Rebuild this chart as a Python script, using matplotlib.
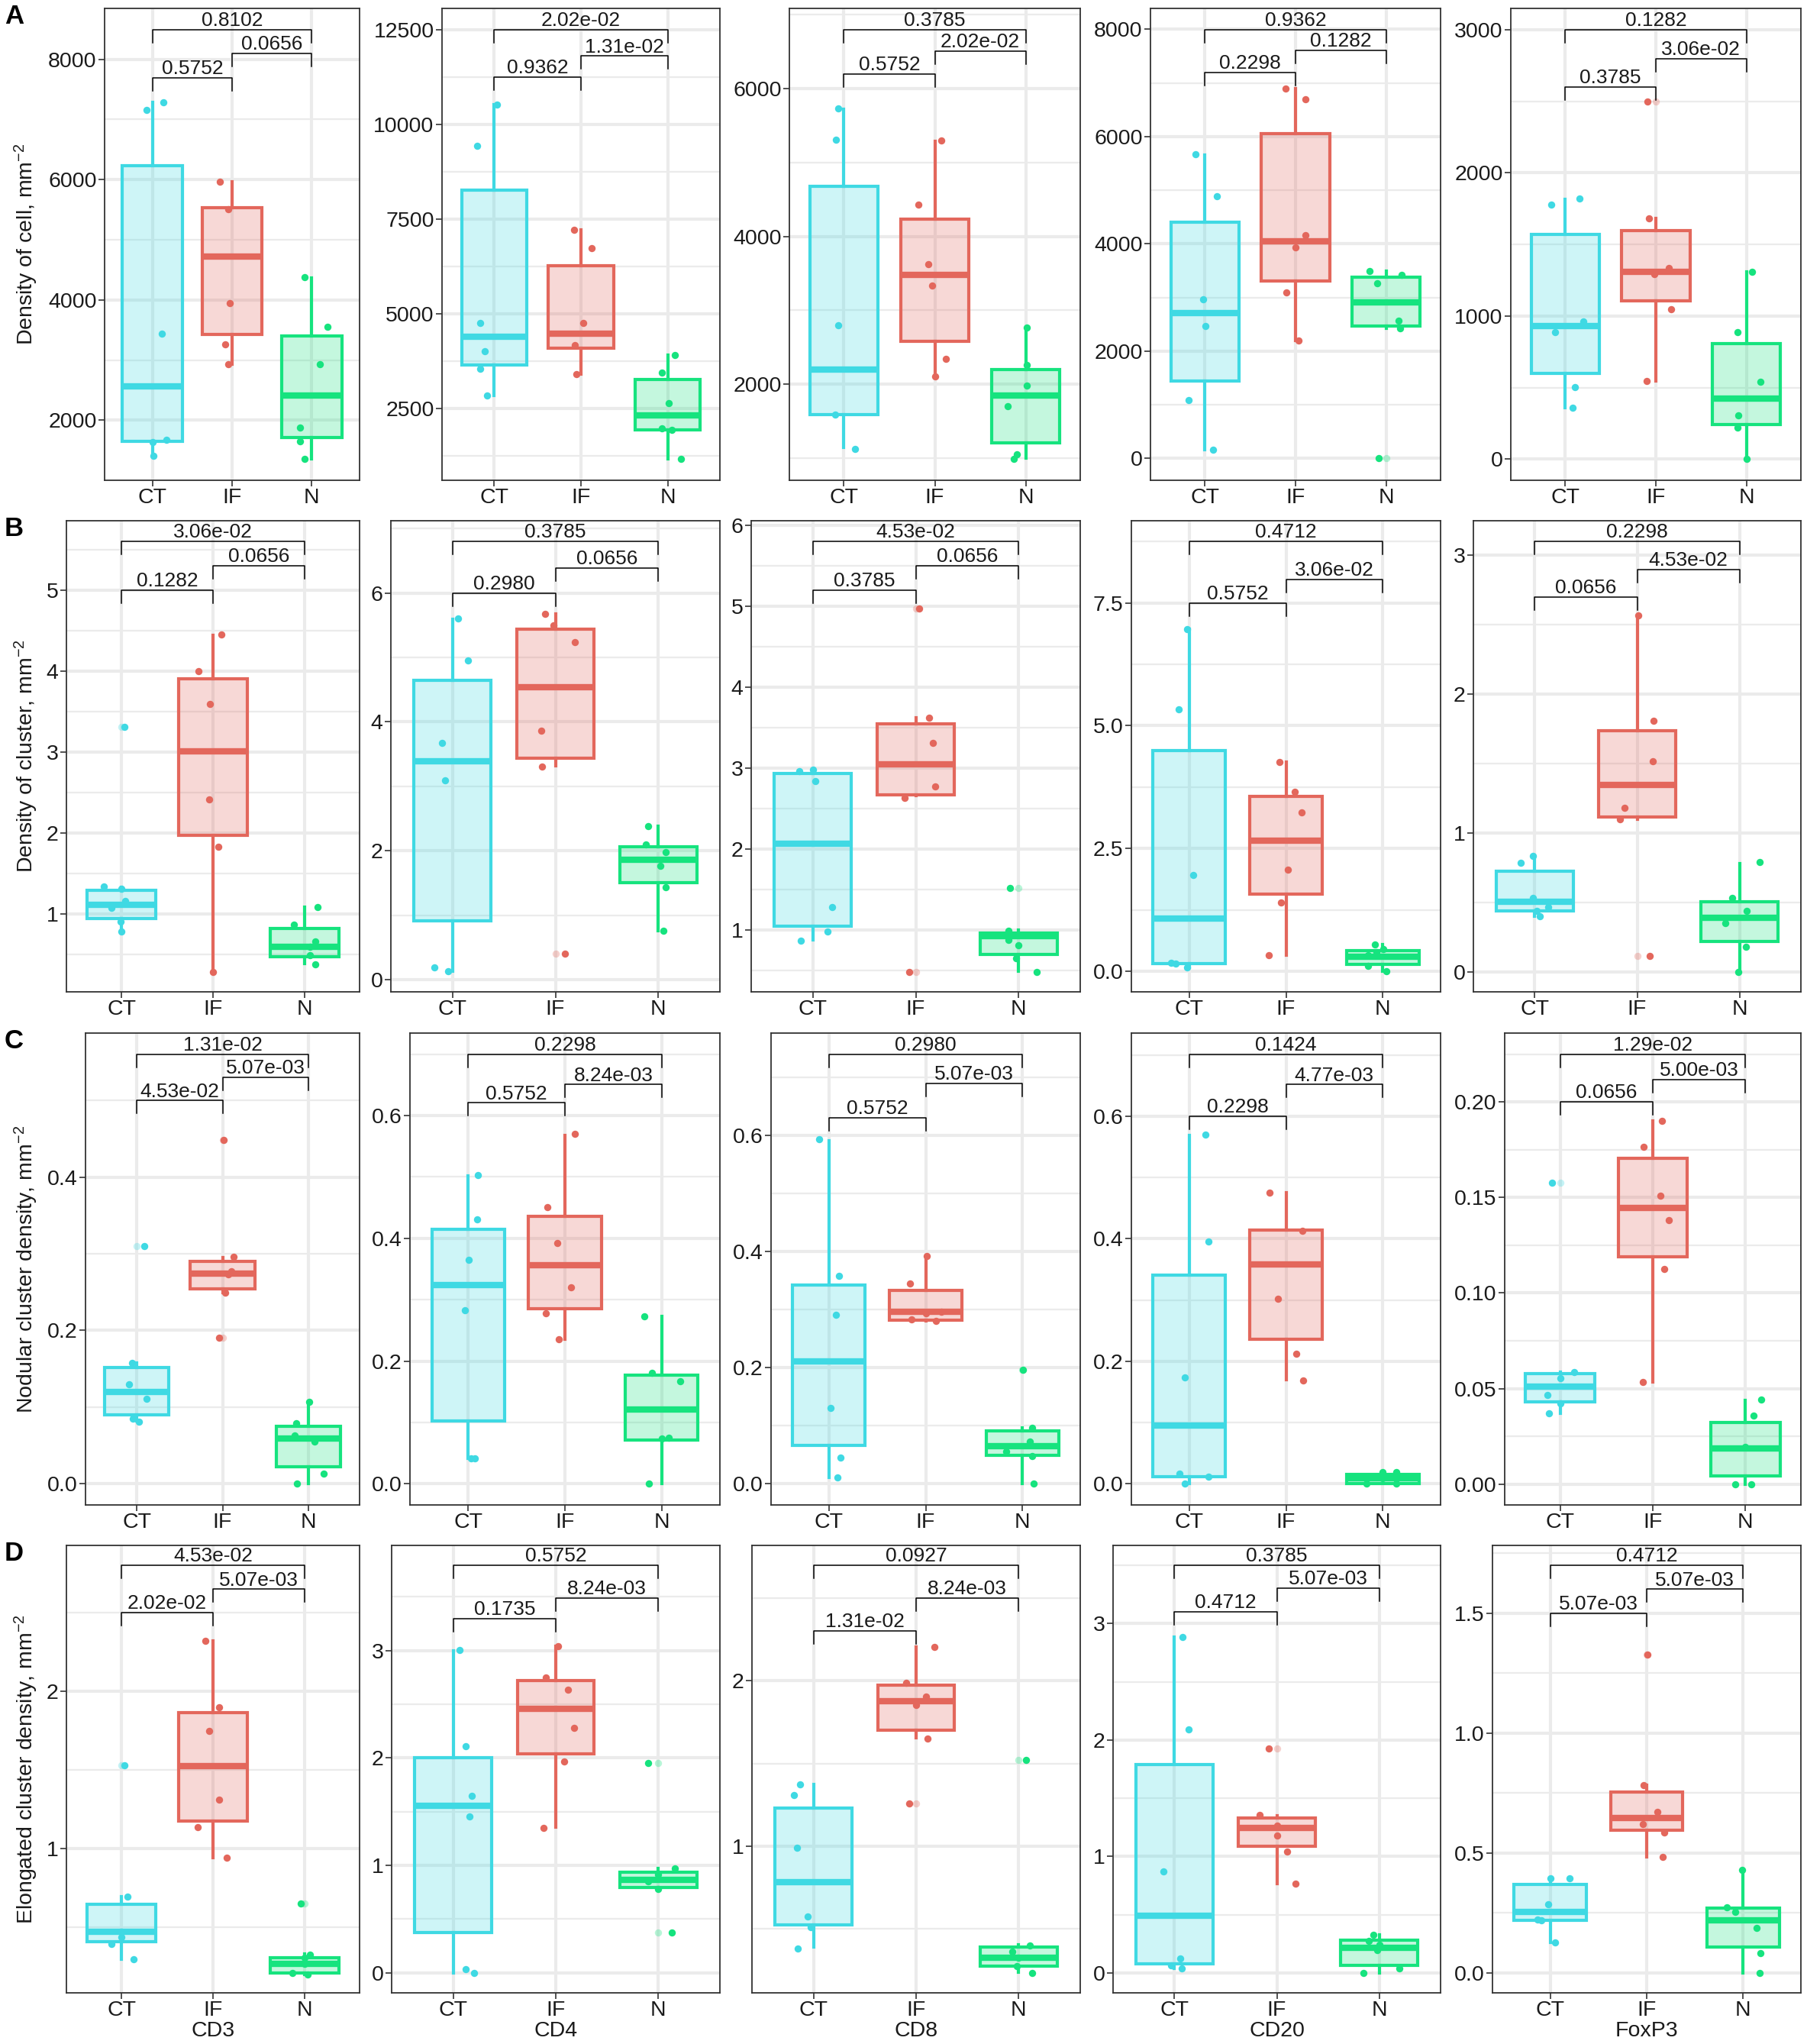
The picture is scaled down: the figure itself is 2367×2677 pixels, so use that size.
import matplotlib
matplotlib.use('Agg')
import matplotlib.pyplot as plt
from matplotlib.colors import to_rgba

plt.rcParams['font.family'] = 'Liberation Sans'
plt.rcParams['mathtext.fontset'] = 'custom'
plt.rcParams['mathtext.rm'] = 'Liberation Sans'
plt.rcParams['mathtext.it'] = 'Liberation Sans:italic'
plt.rcParams['mathtext.bf'] = 'Liberation Sans:bold'

groups = ['CT', 'IF', 'N']
markers = ['CD3', 'CD4', 'CD8', 'CD20', 'FoxP3']
group_colors = ['#3FD9E3', '#E3675C', '#16E37E']
row_letters = ['A', 'B', 'C', 'D']
row_ylabels = ['Density of cell, mm$^{-2}$',
               'Density of cluster, mm$^{-2}$',
               'Nodular cluster density, mm$^{-2}$',
               'Elongated cluster density, mm$^{-2}$']

# box stats per marker: [whisker low, q1, median, q3, whisker high] for CT, IF, N
# ---- A: density of cell
A_box = [
    [[1404, 1653, 2564, 6228, 7285], [2927, 3425, 4721, 5534, 5967], [1355, 1718, 2412, 3398, 4363]],
    [[2844, 3653, 4385, 8266, 10521], [3404, 4083, 4471, 6261, 7225], [1166, 1932, 2319, 3266, 3911]],
    [[1145, 1595, 2203, 4678, 5713], [2110, 2586, 3480, 4229, 5286], [1000, 1207, 1846, 2198, 2771]],
    [[164, 1441, 2705, 4407, 5653], [2201, 3301, 4043, 6061, 6888], [2432, 2462, 2906, 3374, 3495]],
    [[358, 597, 927, 1572, 1816], [544, 1105, 1310, 1595, 1679], [0, 239, 421, 806, 1308]],
]
A_pts = [
    [[7154, 7285, 3442, 1637, 1680, 1404], [5967, 5507, 3946, 3257, 2927], [4374, 3550, 2932, 1881, 1653, 1355]],
    [[9428, 10521, 4763, 4006, 3541, 2844], [7225, 6734, 4763, 4170, 3404], [3911, 3455, 2638, 1975, 1932, 1166]],
    [[5727, 5304, 2797, 1595, 1132], [5295, 4427, 3621, 3339, 2344, 2110], [2771, 2264, 1982, 1705, 1053, 991]],
    [[5666, 4894, 2960, 2462, 1094, 164], [6888, 6699, 4164, 3933, 3088, 2201], [3495, 3416, 3264, 2565, 2432, 0]],
    [[1775, 1820, 888, 961, 501, 358], [2499, 1683, 1333, 1292, 1046, 544], [1308, 888, 540, 305, 221, 0]],
]
A_ylim = [(1003, 8845), (607, 13059), (705, 7079), (-407, 8389), (-148, 3148)]
A_ticks = [[2000, 4000, 6000, 8000], [2500, 5000, 7500, 10000, 12500], [2000, 4000, 6000],
           [0, 2000, 4000, 6000, 8000], [0, 1000, 2000, 3000]]
A_labels = [['2000', '4000', '6000', '8000'], ['2500', '5000', '7500', '10000', '12500'],
            ['2000', '4000', '6000'], ['0', '2000', '4000', '6000', '8000'], ['0', '1000', '2000', '3000']]
# p values: CT-IF, IF-N, CT-N
A_pvals = [('0.5752', '0.0656', '0.8102'), ('0.9362', '1.31e-02', '2.02e-02'), ('0.5752', '2.02e-02', '0.3785'),
           ('0.2298', '0.1282', '0.9362'), ('0.3785', '3.06e-02', '0.1282')]

# ---- B: density of cluster
B_box = [
    [[0.79, 0.94, 1.113, 1.294, 1.327], [0.286, 1.972, 3.008, 3.903, 4.448], [0.387, 0.468, 0.589, 0.823, 1.081]],
    [[0.137, 0.911, 3.392, 4.643, 5.595], [3.316, 3.433, 4.542, 5.443, 5.681], [0.759, 1.509, 1.858, 2.061, 2.38]],
    [[0.883, 1.052, 2.068, 2.934, 2.986], [2.664, 2.672, 3.047, 3.55, 3.619], [0.496, 0.698, 0.923, 0.964, 1.0]],
    [[0.08, 0.159, 1.07, 4.491, 6.97], [0.326, 1.568, 2.664, 3.561, 4.266], [0.0, 0.146, 0.292, 0.425, 0.538]],
    [[0.401, 0.437, 0.507, 0.723, 0.836], [1.101, 1.117, 1.345, 1.735, 2.566], [0.0, 0.221, 0.39, 0.507, 0.782]],
]
B_pts = [
    [[3.31, 1.343, 1.31, 1.161, 1.073, 0.90, 0.778], [4.456, 4.0, 3.593, 2.415, 1.827, 0.286],
     [1.081, 0.863, 0.661, 0.589, 0.488, 0.379]],
    [[5.61, 4.947, 3.671, 3.099, 0.192, 0.137], [5.681, 5.494, 5.24, 3.868, 3.306, 0.405],
     [2.38, 2.101, 1.985, 1.762, 1.433, 0.759]],
    [[2.966, 2.986, 2.845, 1.29, 0.984, 0.871], [4.97, 3.623, 3.317, 2.773, 2.632, 0.488],
     [1.524, 0.992, 0.879, 0.81, 0.65, 0.488]],
    [[6.97, 5.342, 1.953, 0.179, 0.159, 0.08], [4.266, 3.648, 3.242, 2.073, 1.402, 0.326],
     [0.538, 0.458, 0.392, 0.326, 0.106, 0.0]],
    [[0.836, 0.784, 0.535, 0.465, 0.437, 0.401], [2.566, 1.805, 1.514, 1.178, 1.101, 0.113],
     [0.789, 0.531, 0.437, 0.354, 0.183, 0.0]],
]
B_ylim = [(0.036, 5.86), (-0.187, 7.12), (0.239, 6.056), (-0.419, 9.175), (-0.143, 3.246)]
B_ticks = [[1, 2, 3, 4, 5], [0, 2, 4, 6], [1, 2, 3, 4, 5, 6], [0, 2.5, 5, 7.5], [0, 1, 2, 3]]
B_labels = [['1', '2', '3', '4', '5'], ['0', '2', '4', '6'], ['1', '2', '3', '4', '5', '6'],
            ['0.0', '2.5', '5.0', '7.5'], ['0', '1', '2', '3']]
B_pvals = [('0.1282', '0.0656', '3.06e-02'), ('0.2980', '0.0656', '0.3785'), ('0.3785', '0.0656', '4.53e-02'),
           ('0.5752', '3.06e-02', '0.4712'), ('0.0656', '4.53e-02', '0.2298')]

# ---- C: nodular cluster density
C_box = [
    [[0.0817, 0.0902, 0.12, 0.152, 0.158], [0.249, 0.254, 0.274, 0.290, 0.295], [0.0, 0.0221, 0.0591, 0.0745, 0.107]],
    [[0.042, 0.102, 0.3237, 0.4146, 0.5017], [0.236, 0.2854, 0.3561, 0.4358, 0.5682], [0.0, 0.0718, 0.1206, 0.1765, 0.2732]],
    [[0.0112, 0.0658, 0.2103, 0.3425, 0.5916], [0.2812, 0.2823, 0.2963, 0.3329, 0.392], [0.0, 0.0489, 0.0647, 0.0911, 0.0967]],
    [[0.0, 0.0117, 0.0953, 0.3408, 0.5692], [0.1699, 0.2354, 0.3578, 0.4148, 0.475], [0.0, 0.0, 0.009, 0.0154, 0.018]],
    [[0.0372, 0.0432, 0.0509, 0.0577, 0.0585], [0.0534, 0.1189, 0.1444, 0.1703, 0.19], [0.0, 0.0043, 0.0188, 0.0321, 0.044]],
]
C_pts = [
    [[0.31, 0.158, 0.130, 0.111, 0.0847, 0.081], [0.449, 0.296, 0.277, 0.273, 0.249, 0.19],
     [0.107, 0.0791, 0.0626, 0.0549, 0.0128, 0.0]],
    [[0.5033, 0.4305, 0.3651, 0.2828, 0.042, 0.041], [0.5698, 0.4502, 0.3928, 0.32, 0.2774, 0.236],
     [0.2732, 0.1807, 0.1674, 0.0744, 0.0739, 0.0]],
    [[0.5938, 0.3582, 0.2907, 0.1305, 0.0444, 0.0107], [0.392, 0.3453, 0.2963, 0.2935, 0.2834, 0.2806],
     [0.1963, 0.0967, 0.0725, 0.0557, 0.0478, 0.0]],
    [[0.5697, 0.3962, 0.1741, 0.017, 0.0117, 0.0], [0.475, 0.4127, 0.3019, 0.2125, 0.1688],
     [0.0186, 0.0186, 0.0117, 0.009, 0.0, 0.0]],
    [[0.1578, 0.0585, 0.0555, 0.0466, 0.0423, 0.0372], [0.19, 0.1766, 0.151, 0.1382, 0.1126, 0.0534],
     [0.0444, 0.0358, 0.0193, 0.0, 0.0]],
]
C_ylim = [(-0.0277, 0.588), (-0.0345, 0.7345), (-0.0366, 0.777), (-0.0346, 0.736), (-0.0109, 0.236)]
C_ticks = [[0, 0.2, 0.4], [0, 0.2, 0.4, 0.6], [0, 0.2, 0.4, 0.6], [0, 0.2, 0.4, 0.6], [0, 0.05, 0.1, 0.15, 0.2]]
C_labels = [['0.0', '0.2', '0.4'], ['0.0', '0.2', '0.4', '0.6'], ['0.0', '0.2', '0.4', '0.6'],
            ['0.0', '0.2', '0.4', '0.6'], ['0.00', '0.05', '0.10', '0.15', '0.20']]
C_pvals = [('4.53e-02', '5.07e-03', '1.31e-02'), ('0.5752', '8.24e-03', '0.2298'), ('0.5752', '5.07e-03', '0.2980'),
           ('0.2298', '4.77e-03', '0.1424'), ('0.0656', '5.00e-03', '1.29e-02')]

# ---- D: elongated cluster density
D_box = [
    [[0.296, 0.41, 0.472, 0.648, 0.694], [0.944, 1.176, 1.522, 1.863, 2.321], [0.203, 0.213, 0.271, 0.306, 0.331]],
    [[0.0, 0.377, 1.556, 2.0, 3.0], [1.353, 2.036, 2.456, 2.72, 3.04], [0.781, 0.79, 0.866, 0.936, 0.973]],
    [[0.387, 0.525, 0.783, 1.231, 1.373], [1.655, 1.7, 1.878, 1.976, 2.207], [0.235, 0.274, 0.323, 0.387, 0.402]],
    [[0.039, 0.078, 0.493, 1.788, 2.886], [0.764, 1.086, 1.243, 1.327, 1.352], [0.0, 0.067, 0.218, 0.283, 0.325]],
    [[0.1266, 0.218, 0.2545, 0.3675, 0.3947], [0.4832, 0.5948, 0.6465, 0.7554, 0.7826], [0.0, 0.1062, 0.2178, 0.2695, 0.4287]],
]
D_pts = [
    [[1.53, 0.696, 0.472, 0.44, 0.395, 0.296], [2.321, 1.899, 1.745, 1.31, 1.135, 0.944],
     [0.652, 0.327, 0.306, 0.271, 0.209, 0.203]],
    [[3.009, 2.106, 1.647, 1.453, 0.03, 0.0], [3.04, 2.751, 2.635, 2.28, 1.967, 1.347],
     [1.951, 0.973, 0.912, 0.851, 0.781, 0.371]],
    [[1.375, 1.31, 0.99, 0.576, 0.511, 0.379], [2.207, 1.99, 1.905, 1.856, 1.649, 1.26],
     [1.521, 0.398, 0.363, 0.323, 0.274, 0.231]],
    [[2.886, 2.093, 0.87, 0.123, 0.067, 0.039], [1.928, 1.357, 1.262, 1.178, 1.044, 0.764],
     [0.325, 0.277, 0.241, 0.199, 0.039, 0.0]],
    [[0.3947, 0.3947, 0.2858, 0.2219, 0.218, 0.1266], [1.327, 0.7826, 0.671, 0.6193, 0.5853, 0.4832],
     [0.4287, 0.2722, 0.2545, 0.1865, 0.0817, 0.0]],
]
D_ylim = [(0.085, 2.925), (-0.188, 3.98), (0.112, 2.82), (-0.171, 3.67), (-0.084, 1.783)]
D_ticks = [[1, 2], [0, 1, 2, 3], [1, 2], [0, 1, 2, 3], [0, 0.5, 1, 1.5]]
D_labels = [['1', '2'], ['0', '1', '2', '3'], ['1', '2'], ['0', '1', '2', '3'], ['0.0', '0.5', '1.0', '1.5']]
D_pvals = [('2.02e-02', '5.07e-03', '4.53e-02'), ('0.1735', '8.24e-03', '0.5752'), ('1.31e-02', '8.24e-03', '0.0927'),
           ('0.4712', '5.07e-03', '0.3785'), ('5.07e-03', '5.07e-03', '0.4712')]

# horizontal jitter of the points (same shape as the *_pts lists)
A_jit = [
    [[-0.07, 0.14, 0.12, 0.0, 0.18, 0.01], [-0.15, -0.05, -0.03, -0.09, -0.05], [-0.09, 0.2, 0.1, -0.15, -0.15, -0.09]],
    [[-0.2, 0.03, -0.16, -0.11, -0.16, -0.08], [-0.08, 0.12, 0.03, -0.07, -0.05], [0.08, -0.07, 0.01, -0.07, 0.05, 0.15]],
    [[-0.06, -0.09, -0.06, -0.1, 0.12], [0.07, -0.18, -0.07, -0.03, 0.12, 0.0], [0.01, 0.01, 0.01, -0.2, -0.1, -0.13]],
    [[-0.1, 0.13, -0.02, 0.01, -0.18, 0.09], [-0.11, 0.11, 0.11, 0.0, -0.1, 0.03], [-0.18, 0.17, -0.1, 0.14, 0.15, -0.08]],
    [[-0.15, 0.16, -0.11, 0.2, 0.11, 0.08], [-0.09, -0.08, 0.14, -0.02, 0.17, -0.1], [0.06, -0.1, 0.15, -0.09, -0.1, 0.0]],
]
B_jit = [
    [[0.03, -0.19, 0.0, 0.04, -0.11, -0.01, 0.0], [0.09, -0.16, -0.03, -0.04, 0.06, 0.0], [0.14, -0.12, 0.12, 0.06, 0.06, 0.12]],
    [[0.05, 0.15, -0.1, -0.07, -0.18, -0.04], [-0.1, -0.02, 0.19, -0.14, -0.13, 0.09], [-0.1, -0.12, 0.07, 0.02, 0.07, 0.05]],
    [[-0.13, 0.0, 0.02, 0.19, 0.14, -0.12], [0.03, 0.13, 0.17, 0.19, -0.11, -0.06], [-0.08, -0.1, -0.1, 0.0, -0.02, 0.18]],
    [[-0.02, -0.11, 0.04, -0.19, -0.14, -0.02], [-0.07, 0.09, 0.16, 0.02, -0.05, -0.18], [-0.08, 0.01, -0.06, -0.15, -0.15, 0.04]],
    [[-0.02, -0.14, -0.02, 0.13, 0.02, 0.05], [0.01, 0.16, 0.15, -0.12, -0.17, 0.12], [0.2, -0.07, 0.07, -0.14, 0.06, -0.01]],
]
C_jit = [
    [[0.09, -0.06, -0.09, 0.11, -0.05, 0.02], [0.01, 0.13, 0.1, 0.07, 0.03, -0.04], [0.01, -0.14, -0.16, 0.07, 0.18, -0.13]],
    [[0.1, 0.09, 0.01, -0.03, 0.03, 0.07], [0.1, -0.18, -0.08, 0.06, -0.2, -0.06], [-0.18, -0.1, 0.19, 0.07, 0.0, -0.13]],
    [[-0.1, 0.1, 0.07, 0.02, 0.12, 0.09], [0.01, -0.16, 0.16, 0.0, -0.15, 0.11], [0.01, 0.1, 0.08, -0.17, 0.1, 0.12]],
    [[0.17, 0.2, -0.05, -0.1, 0.2, -0.05], [-0.17, 0.17, -0.08, 0.11, 0.18], [0.0, 0.14, -0.1, 0.0, -0.17, 0.14]],
    [[-0.09, 0.15, 0.0, -0.14, 0.0, -0.12], [0.1, -0.1, 0.08, 0.17, 0.12, -0.11], [0.17, 0.09, 0.0, -0.11, 0.06]],
]
D_jit = [
    [[0.03, 0.07, 0.0, 0.0, -0.11, 0.13], [-0.08, 0.07, -0.04, 0.07, -0.17, 0.15], [-0.04, 0.06, 0.0, 0.0, -0.13, 0.03]],
    [[0.06, 0.12, 0.18, 0.16, 0.12, 0.2], [0.02, -0.1, 0.12, 0.18, 0.08, -0.12], [-0.1, 0.16, 0.0, -0.1, 0.0, 0.13]],
    [[-0.13, -0.19, -0.16, -0.06, -0.03, -0.15], [0.18, -0.1, 0.1, 0.0, 0.11, -0.07], [0.07, 0.11, -0.06, 0.0, -0.02, 0.13]],
    [[0.08, 0.14, -0.11, 0.06, -0.03, 0.07], [-0.08, -0.17, 0.0, 0.0, 0.1, 0.18], [-0.06, -0.1, 0.0, -0.02, 0.2, -0.15]],
    [[0.0, 0.2, -0.02, -0.13, -0.09, 0.05], [0.01, -0.03, 0.11, -0.04, 0.18, 0.17], [-0.01, -0.17, -0.08, 0.14, 0.18, 0.17]],
]

# layout, in pixels of the 2367x2677 figure
W, H = 2367, 2677
row_top = [11, 682, 1353, 2024]
row_bottom = [629, 1299, 1971, 2610]
col_right = [471, 943, 1415, 1887, 2359]
col_left = [[137, 579, 1034, 1507, 1979],
            [87, 512, 984, 1482, 1930],
            [112, 537, 1010, 1482, 1971],
            [87, 513, 985, 1458, 1955]]
# height of the brackets (axes fraction): CT-IF, IF-N, CT-N
bracket_y = [
    [(0.853, 0.905, 0.955), (0.855, 0.899, 0.955), (0.861, 0.909, 0.955), (0.864, 0.911, 0.955), (0.834, 0.894, 0.955)],
    [(0.852, 0.904, 0.956), (0.846, 0.900, 0.956), (0.852, 0.904, 0.956), (0.825, 0.876, 0.956), (0.838, 0.897, 0.956)],
    [(0.857, 0.906, 0.955), (0.852, 0.891, 0.955), (0.820, 0.894, 0.955), (0.824, 0.891, 0.955), (0.854, 0.902, 0.955)],
    [(0.850, 0.902, 0.956), (0.836, 0.883, 0.956), (0.809, 0.882, 0.956), (0.852, 0.904, 0.956), (0.848, 0.902, 0.956)],
]

TEXT = '#1A1A1A'
GRID = '#EBEBEB'


def bracket(ax, x1, x2, yfrac, tip, text):
    trans = ax.get_xaxis_transform()
    ax.plot([x1, x1, x2, x2], [yfrac - tip, yfrac, yfrac, yfrac - tip], color='black', lw=1.1,
            transform=trans, clip_on=False, zorder=5)
    ax.annotate(text, xy=((x1 + x2) / 2, yfrac), xycoords=trans, xytext=(0, 3.5),
                textcoords='offset points', ha='center', va='baseline', fontsize=19, color=TEXT)


def draw_panel(ax, box, pts, jit, ylim, ticks, labels, pvals, brk, height_px):
    stats = []
    for b in box:
        stats.append({'whislo': b[0], 'q1': b[1], 'med': b[2], 'q3': b[3], 'whishi': b[4], 'fliers': []})
    art = ax.bxp(stats, positions=[1, 2, 3], widths=0.75, patch_artist=True, showcaps=False,
                 showfliers=False, manage_ticks=False)
    for i, c in enumerate(group_colors):
        art['boxes'][i].set_facecolor(to_rgba(c, 0.25))
        art['boxes'][i].set_edgecolor(c)
        art['boxes'][i].set_linewidth(3.0)
        art['boxes'][i].set_zorder(2)
        art['medians'][i].set_color(c)
        art['medians'][i].set_linewidth(6.0)
        art['medians'][i].set_solid_capstyle('butt')
        art['medians'][i].set_zorder(3)
        for w in art['whiskers'][2 * i:2 * i + 2]:
            w.set_color(c)
            w.set_linewidth(3.0)
            w.set_zorder(2)

    tol = 0.01 * (ylim[1] - ylim[0])
    for i, c in enumerate(group_colors):
        xs = [i + 1 + j for j in jit[i]]
        ax.scatter(xs, pts[i], s=46, color=c, zorder=4, linewidths=0)
        # boxplot outliers at the group centre, faded
        out = [v for v in pts[i] if v > box[i][4] + tol or v < box[i][0] - tol]
        if out:
            ax.scatter([i + 1] * len(out), out, s=46, color=c, alpha=0.3, zorder=4, linewidths=0)

    ax.set_xlim(0.4, 3.6)
    ax.set_ylim(*ylim)
    ax.set_xticks([1, 2, 3])
    ax.set_xticklabels(groups)
    ax.set_yticks(ticks)
    ax.set_yticklabels(labels)
    step = ticks[1] - ticks[0]
    minor = []
    v = ticks[0] - step / 2
    while v > ylim[0]:
        minor.append(v)
        v -= step
    v = ticks[0] + step / 2
    while v < ylim[1]:
        minor.append(v)
        v += step
    ax.set_yticks(minor, minor=True)
    ax.grid(True, which='major', color=GRID, lw=3.0, zorder=0)
    ax.grid(True, which='minor', axis='y', color=GRID, lw=1.6, zorder=0)
    ax.set_axisbelow(True)
    ax.tick_params(which='major', length=6, width=1.2, color='#333333', labelsize=20.5,
                   labelcolor=TEXT, pad=1.5)
    ax.tick_params(which='minor', length=0)
    for s in ax.spines.values():
        s.set_color('#333333')
        s.set_linewidth(1.3)

    tip = 17.0 / height_px
    bracket(ax, 1, 2, brk[0], tip, pvals[0])
    bracket(ax, 2, 3, brk[1], tip, pvals[1])
    bracket(ax, 1, 3, brk[2], tip, pvals[2])


fig = plt.figure(figsize=(W / 100, H / 100), dpi=100)

rows = [
    (A_box, A_pts, A_jit, A_ylim, A_ticks, A_labels, A_pvals),
    (B_box, B_pts, B_jit, B_ylim, B_ticks, B_labels, B_pvals),
    (C_box, C_pts, C_jit, C_ylim, C_ticks, C_labels, C_pvals),
    (D_box, D_pts, D_jit, D_ylim, D_ticks, D_labels, D_pvals),
]

for r, (box, pts, jit, ylim, ticks, labels, pvals) in enumerate(rows):
    top, bottom = row_top[r], row_bottom[r]
    for c in range(5):
        left, right = col_left[r][c], col_right[c]
        ax = fig.add_axes([left / W, 1 - bottom / H, (right - left) / W, (bottom - top) / H])
        draw_panel(ax, box[c], pts[c], jit[c], ylim[c], ticks[c], labels[c], pvals[c],
                   bracket_y[r][c], bottom - top)
        if r == 3:
            fig.text((left + right) / 2 / W, 1 - 2660 / H, markers[c], ha='center', va='center',
                     fontsize=20.5, color=TEXT)
    fig.text(34 / W, 1 - (top + bottom) / 2 / H, row_ylabels[r], rotation=90, ha='center',
             va='center', fontsize=20.5, color=TEXT)
    fig.text(6 / W, 1 - (top - 6) / H, row_letters[r], ha='left', va='top', fontsize=25,
             fontweight='bold', color='black')

fig.savefig('out.png', dpi=100)
